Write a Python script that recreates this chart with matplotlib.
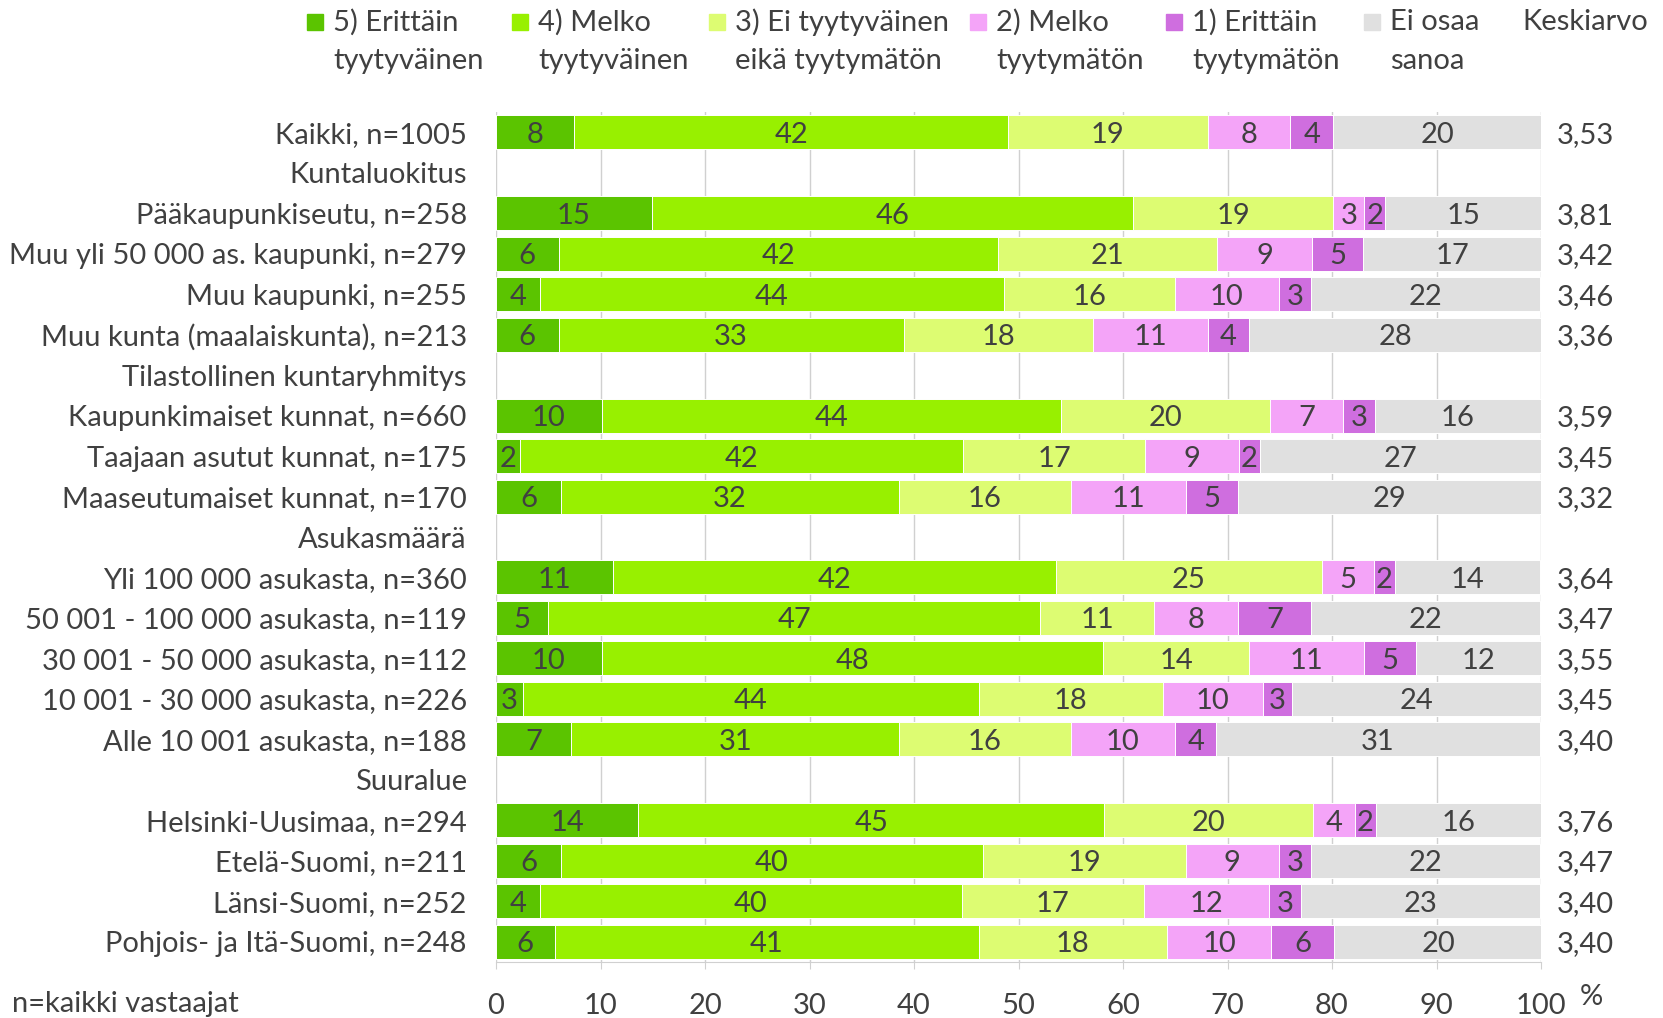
import numpy as np
import matplotlib
matplotlib.use("Agg")
import matplotlib.pyplot as plt
from matplotlib.patches import Rectangle
import matplotlib.transforms as mtransforms

plt.rcParams['font.family'] = ['Lato', 'DejaVu Sans']

categories = [
    "Kaikki, n=1005", "Kuntaluokitus", "Pääkaupunkiseutu, n=258",
    "Muu yli 50 000 as. kaupunki, n=279", "Muu kaupunki, n=255",
    "Muu kunta (maalaiskunta), n=213", "Tilastollinen kuntaryhmitys",
    "Kaupunkimaiset kunnat, n=660", "Taajaan asutut kunnat, n=175",
    "Maaseutumaiset kunnat, n=170", "Asukasmäärä",
    "Yli 100 000 asukasta, n=360", "50 001 - 100 000 asukasta, n=119",
    "30 001 - 50 000 asukasta, n=112", "10 001 - 30 000 asukasta, n=226",
    "Alle 10 001 asukasta, n=188", "Suuralue",
    "Helsinki-Uusimaa, n=294", "Etelä-Suomi, n=211", "Länsi-Suomi, n=252",
    "Pohjois- ja Itä-Suomi, n=248",
]
nan = np.nan
s5 = [7.5, nan, 14.9, 6.0, 4.2, 6.0, nan, 10.1, 2.3, 6.2, nan, 11.2, 5.0, 10.1, 2.6, 7.2, nan, 13.6, 6.2, 4.2, 5.6]
s4 = [41.5, nan, 46.1, 42.0, 44.4, 33.0, nan, 44.0, 42.4, 32.4, nan, 42.4, 47.1, 48.0, 43.6, 31.4, nan, 44.6, 40.4, 40.4, 40.6]
s3 = [19.1, nan, 19.1, 21.0, 16.4, 18.1, nan, 20.0, 17.4, 16.4, nan, 25.4, 10.9, 14.0, 17.6, 16.4, nan, 20.0, 19.4, 17.4, 18.0]
s2 = [7.9, nan, 3.0, 9.1, 9.9, 11.0, nan, 7.0, 9.0, 11.0, nan, 5.0, 8.0, 11.0, 9.6, 10.0, nan, 4.0, 8.9, 12.0, 10.0]
s1 = [4.1, nan, 2.0, 4.9, 3.1, 4.0, nan, 3.0, 2.0, 5.0, nan, 2.0, 7.0, 4.9, 2.8, 3.9, nan, 2.0, 3.1, 3.0, 6.0]
s0 = [19.9, nan, 14.9, 17.0, 21.9, 27.9, nan, 15.9, 26.9, 29.0, nan, 13.9, 21.9, 12.0, 23.8, 31.0, nan, 15.9, 21.9, 22.9, 19.9]
means = ["3,53", "", "3,81", "3,42", "3,46", "3,36", "", "3,59", "3,45", "3,32", "",
         "3,64", "3,47", "3,55", "3,45", "3,40", "", "3,76", "3,47", "3,40", "3,40"]
series_names = ["5) Erittäin\ntyytyväinen", "4) Melko\ntyytyväinen",
                "3) Ei tyytyväinen\neikä tyytymätön", "2) Melko\ntyytymätön",
                "1) Erittäin\ntyytymätön", "Ei osaa\nsanoa"]
colors = ["#5BC400", "#98F000", "#DDFC72", "#F4A4F8", "#CF6EDF", "#E0E0E0"]
xticks = [0, 10, 20, 30, 40, 50, 60, 70, 80, 90, 100]

TXT = "#404040"
FS = 21

fig = plt.figure(figsize=(16.63, 10.18), dpi=100)
ax = fig.add_axes([496/1663, 1-962/1018, (1541-496)/1663, (962-112)/1018])

y = np.arange(len(categories))
series = [s5, s4, s3, s2, s1, s0]
left = np.zeros(len(categories))
for vals, col in zip(series, colors):
    v = np.array(vals, dtype=float)
    mask = ~np.isnan(v)
    ax.barh(y[mask], v[mask], left=left[mask], height=0.84, color=col,
            edgecolor="white", linewidth=0.7, zorder=2)
    for yi, vi, li in zip(y[mask], v[mask], left[mask]):
        ax.text(li + vi/2, yi, f"{vi:.0f}", ha="center", va="center_baseline",
                fontsize=FS, color=TXT, zorder=3)
    left[mask] += v[mask]

ax.set_xlim(0, 100)
ax.set_ylim(len(categories)-0.5, -0.5)
ax.set_xticks(xticks)
ax.set_xticklabels([str(t) for t in xticks], fontsize=FS, color=TXT)
ax.set_yticks(y)
ax.set_yticklabels(categories, fontsize=FS, color=TXT)
for lab in ax.get_yticklabels():
    lab.set_verticalalignment("center_baseline")
ax.tick_params(axis="y", length=0, pad=21)
ax.tick_params(axis="x", length=5, color="#d0d0d0", pad=17)
ax.grid(axis="x", color="#d0d0d0", linewidth=1, zorder=0)
ax.set_axisbelow(True)
for s in ["top", "right", "left"]:
    ax.spines[s].set_visible(False)
ax.spines["bottom"].set_color("#d0d0d0")

trans = mtransforms.blended_transform_factory(ax.transAxes, ax.transData)
for yi, m in zip(y, means):
    if m:
        ax.text(1.015, yi, m, transform=trans, ha="left", va="center_baseline",
                fontsize=FS, color=TXT)

# "%" label and footnote
fig.text(1591/1663, 1-997/1018, "%", ha="center", va="center", fontsize=FS, color=TXT)
fig.text(12/1663, 1-1004/1018, "n=kaikki vastaajat", ha="left", va="center",
         fontsize=FS, color=TXT)

# Legend drawn manually
leg_x = [307, 512, 709, 970, 1166, 1364]
for lx, name, col in zip(leg_x, series_names, colors):
    fig.patches.append(Rectangle((lx/1663, 1-30/1018), 16/1663, 16/1018,
                                 transform=fig.transFigure, color=col))
    l1, l2 = name.split("\n")
    fig.text((lx+26)/1663, 1-22/1018, l1, ha="left", va="center", fontsize=FS, color=TXT)
    fig.text((lx+26)/1663, 1-61/1018, l2, ha="left", va="center", fontsize=FS, color=TXT)
fig.text(1522/1663, 1-22/1018, "Keskiarvo", ha="left", va="center", fontsize=FS, color=TXT)

fig.savefig("out.png", dpi=100)
